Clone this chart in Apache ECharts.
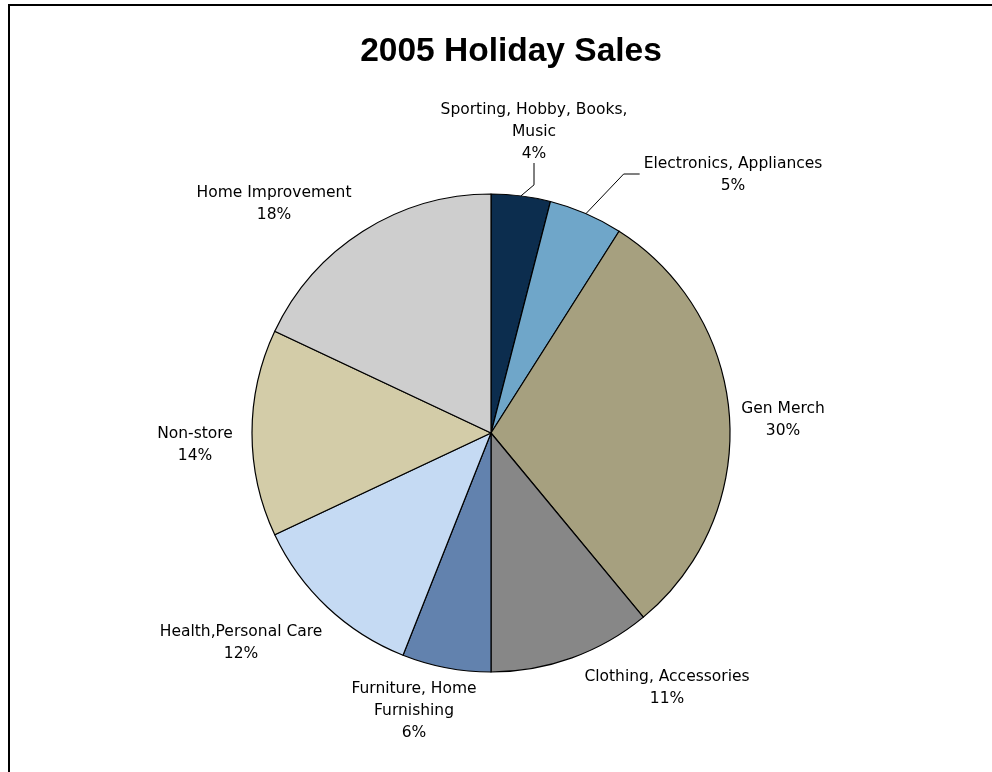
<!DOCTYPE html>
<html>
<head>
<meta charset="utf-8">
<style>
  html, body { margin: 0; padding: 0; background: #fff; }
  #chart { width: 992px; height: 772px; }
</style>
<script src="https://cdn.jsdelivr.net/npm/echarts@6/dist/echarts.min.js"></script>
</head>
<body>
<div id="chart"></div>
<script>
// categories, clockwise from 12 o'clock
const categories = [
  'Sporting, Hobby, Books,\nMusic',
  'Electronics, Appliances',
  'Gen Merch',
  'Clothing, Accessories',
  'Furniture, Home\nFurnishing',
  'Health,Personal Care',
  'Non-store',
  'Home Improvement'
];
// share of sales (%)
const shares = [4, 5, 30, 11, 6, 12, 14, 18];
const colors = ['#0c2d4e', '#6fa6c9', '#a6a07f', '#878787', '#6282ae', '#c5daf3', '#d3cca8', '#cecece'];
// where each label block sits (centre), like the original sheet
const labelAnchors = [
  [534, 132], [733, 175], [783, 420], [667, 688],
  [414, 711], [241, 643], [195, 445], [274, 204]
];
// only these labels get a leader line
const withLine = [true, true, false, false, false, false, false, false];

const chart = echarts.init(document.getElementById('chart'));

const option = {
  animation: false,
  title: {
    text: '2005 Holiday Sales',
    left: 506,
    top: 30,
    textAlign: 'center',
    textStyle: {
      fontFamily: 'Liberation Sans',
      fontSize: 33.5,
      fontWeight: 'bold',
      color: '#000'
    }
  },
  graphic: [{
    type: 'rect',
    shape: { x: 9, y: 5, width: 1000, height: 1000 },
    style: { fill: 'none', stroke: '#000', lineWidth: 2 },
    silent: true
  }],
  series: [{
    type: 'pie',
    center: [491, 433],
    radius: 239,
    startAngle: 90,
    clockwise: true,
    percentPrecision: 0,
    emphasis: { scale: false },
    itemStyle: { borderColor: '#000', borderWidth: 1.2 },
    label: {
      show: true,
      position: 'outside',
      formatter: '{b}\n{d}%',
      fontFamily: 'DejaVu Sans',
      fontSize: 15.5,
      lineHeight: 22,
      color: '#000',
      align: 'center'
    },
    labelLine: {
      show: true,
      length: 20,
      length2: 10,
      lineStyle: { color: '#000', width: 1 }
    },
    labelLayout: function (params) {
      const i = params.dataIndex;
      const [cx, cy] = labelAnchors[i];
      const res = { x: cx, y: cy, align: 'center', verticalAlign: 'middle' };
      const pts = params.labelLinePoints;
      if (withLine[i] && pts) {
        const p0 = pts[0];
        const halfH = params.labelRect.height / 2;
        const halfW = params.labelRect.width / 2;
        if (i === 0) {
          res.labelLinePoints = [p0, [cx, p0[1] - 11], [cx, cy + halfH - 2]];
        } else {
          const endX = cx - halfW - 4;
          res.labelLinePoints = [p0, [endX - 16, cy - 1], [endX, cy - 1]];
        }
      }
      return res;
    },
    data: categories.map((name, i) => ({
      name: name,
      value: shares[i],
      itemStyle: { color: colors[i] },
      labelLine: { show: withLine[i] }
    }))
  }]
};

chart.setOption(option);
</script>
</body>
</html>
